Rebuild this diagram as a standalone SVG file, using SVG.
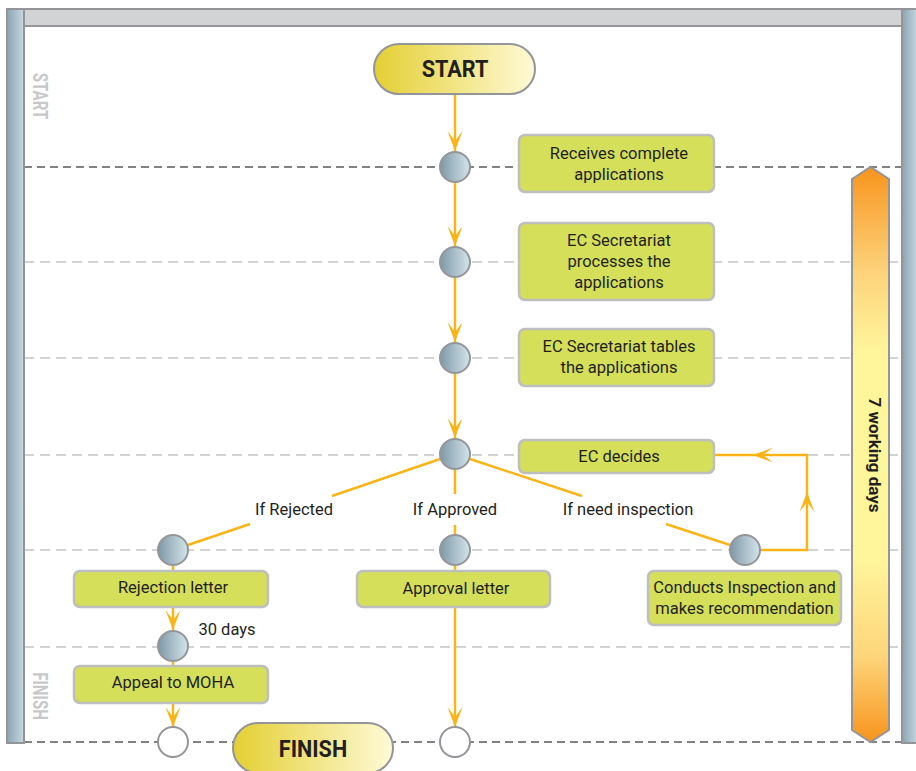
<svg xmlns="http://www.w3.org/2000/svg" width="916" height="771" viewBox="0 0 916 771">
<defs>
  <linearGradient id="cg" x1="0" y1="0" x2="1" y2="0">
    <stop offset="0" stop-color="#7f98a7"/>
    <stop offset="1" stop-color="#d4e5eb"/>
  </linearGradient>
  <linearGradient id="barg" x1="0" y1="0" x2="1" y2="0">
    <stop offset="0" stop-color="#8aa2b1"/>
    <stop offset="1" stop-color="#c8dae2"/>
  </linearGradient>
  <linearGradient id="pillg" x1="0" y1="0" x2="1" y2="0">
    <stop offset="0" stop-color="#e4cf33"/>
    <stop offset="1" stop-color="#fefad6"/>
  </linearGradient>
  <linearGradient id="og" x1="0" y1="0" x2="0" y2="1">
    <stop offset="0" stop-color="#f7941d"/>
    <stop offset="0.18" stop-color="#fdd27a"/>
    <stop offset="0.32" stop-color="#fff59b"/>
    <stop offset="0.68" stop-color="#fff59b"/>
    <stop offset="0.85" stop-color="#fed57a"/>
    <stop offset="1" stop-color="#f7941d"/>
  </linearGradient>
  <marker id="arr" viewBox="-21 -10 22 20" refX="0" refY="0" markerWidth="22" markerHeight="20" markerUnits="userSpaceOnUse" orient="auto">
    <path d="M0,0 L-20,-7.5 L-10,0 L-20,7.5 Z" fill="#fbb416"/>
  </marker>
</defs>
<style>
  .dk{stroke:#808285;stroke-width:2;stroke-dasharray:8 5;fill:none}
  .lt{stroke:#d1d3d4;stroke-width:2;stroke-dasharray:10 6;fill:none}
  .c{stroke:#fbb416;stroke-width:2.5;fill:none}
  .ca{stroke:#fbb416;stroke-width:2.5;fill:none;marker-end:url(#arr)}
  .dot{fill:url(#cg);stroke:#939598;stroke-width:2}
  .end{fill:#ffffff;stroke:#939598;stroke-width:2}
  .box{fill:#d5df5a;stroke:#bcbec0;stroke-width:2.5}
  .pill{fill:url(#pillg);stroke:#939598;stroke-width:2}
  .frame{stroke:#939598;stroke-width:2}
  .t{font-family:Roboto,"Liberation Sans",sans-serif;font-size:16.5px;fill:#231f20;text-anchor:middle}
  .b{font-family:Roboto,"Liberation Sans",sans-serif;font-weight:700;fill:#231f20;text-anchor:middle}
  .lane{font-family:Roboto,"Liberation Sans",sans-serif;font-weight:700;font-size:21px;fill:#c7c8ca;text-anchor:middle}
</style>
<rect x="0" y="0" width="916" height="771" fill="#ffffff"/>

<g id="lanes">
  <line class="dk" x1="24" y1="167" x2="902" y2="167"/>
  <line class="lt" x1="24" y1="262" x2="902" y2="262"/>
  <line class="lt" x1="24" y1="358" x2="902" y2="358"/>
  <line class="lt" x1="24" y1="455" x2="902" y2="455"/>
  <line class="lt" x1="24" y1="550" x2="902" y2="550"/>
  <line class="lt" x1="24" y1="647" x2="902" y2="647"/>
  <line class="dk" x1="24" y1="742" x2="902" y2="742"/>
</g>

<g id="frame">
  <rect class="frame" x="24" y="9" width="878" height="17" fill="#d1d3d4"/>
  <rect class="frame" x="7" y="9" width="17" height="734" fill="url(#barg)"/>
  <rect class="frame" x="902" y="9" width="16" height="734" fill="url(#barg)"/>
  <text class="lane" transform="translate(33,96) rotate(90) scale(0.72,1)">START</text>
  <text class="lane" transform="translate(33,696) rotate(90) scale(0.72,1)">FINISH</text>
</g>

<g id="duration">
  <polygon points="852,179 870.5,167 889,179 889,730 870.5,742 852,730" fill="url(#og)" stroke="#939598" stroke-width="2"/>
  <text class="b" font-size="17" transform="translate(868.5,455) rotate(90)">7 working days</text>
</g>

<g id="connectors">
  <line class="ca" x1="455" y1="94" x2="455" y2="151"/>
  <line class="ca" x1="455" y1="183" x2="455" y2="246"/>
  <line class="ca" x1="455" y1="278" x2="455" y2="342"/>
  <line class="ca" x1="455" y1="374" x2="455" y2="438"/>
  <line class="c" x1="440" y1="459" x2="332" y2="496"/>
  <line class="c" x1="250" y1="524" x2="188" y2="545"/>
  <line class="c" x1="455" y1="470" x2="455" y2="494"/>
  <line class="c" x1="455" y1="525" x2="455" y2="534"/>
  <line class="c" x1="470" y1="459" x2="582" y2="496"/>
  <line class="c" x1="666" y1="524" x2="730" y2="545"/>
  <path class="ca" d="M761,550 L807,550 L807,492"/>
  <path class="ca" d="M807,492 L807,455 L753,455"/>
  <line class="c" x1="753" y1="455" x2="714" y2="455"/>
  <line class="c" x1="173" y1="566" x2="173" y2="571"/>
  <line class="ca" x1="173" y1="607" x2="173" y2="630"/>
  <line class="c" x1="173" y1="662" x2="173" y2="666"/>
  <line class="ca" x1="173" y1="703" x2="173" y2="727"/>
  <line class="c" x1="455" y1="566" x2="455" y2="571"/>
  <line class="ca" x1="455" y1="607" x2="455" y2="727"/>
  <text class="t" x="294" y="515">If Rejected</text>
  <text class="t" x="455" y="515">If Approved</text>
  <text class="t" x="628" y="515">If need inspection</text>
  <text class="t" x="227" y="635">30 days</text>
</g>

<g id="start">
  <rect class="pill" x="374" y="44" width="161" height="50" rx="25"/>
  <text class="b" font-size="24" transform="translate(455,77) scale(0.9,1)">START</text>
</g>
<g id="finish">
  <rect class="pill" x="233" y="723" width="160" height="50" rx="25"/>
  <text class="b" font-size="24" transform="translate(313,757) scale(0.9,1)">FINISH</text>
</g>

<g id="p1"><circle class="dot" cx="455" cy="167" r="15"/></g>
<g id="p2"><circle class="dot" cx="455" cy="262" r="15"/></g>
<g id="p3"><circle class="dot" cx="455" cy="358" r="15"/></g>
<g id="p4"><circle class="dot" cx="455" cy="454" r="15"/></g>
<g id="p5"><circle class="dot" cx="173" cy="550" r="15"/></g>
<g id="p6"><circle class="dot" cx="455" cy="550" r="15"/></g>
<g id="p7"><circle class="dot" cx="745" cy="550" r="15"/></g>
<g id="p8"><circle class="dot" cx="173" cy="646" r="15"/></g>
<g id="e1"><circle class="end" cx="173" cy="742" r="15"/></g>
<g id="e2"><circle class="end" cx="455" cy="742" r="15"/></g>

<g id="receives">
  <rect class="box" x="519" y="135" width="195" height="57" rx="6"/>
  <text class="t" x="619" y="159">Receives complete</text>
  <text class="t" x="619" y="180">applications</text>
</g>
<g id="processes">
  <rect class="box" x="519" y="223" width="195" height="77" rx="6"/>
  <text class="t" x="619" y="246">EC Secretariat</text>
  <text class="t" x="619" y="267">processes the</text>
  <text class="t" x="619" y="288">applications</text>
</g>
<g id="tables">
  <rect class="box" x="519" y="329" width="195" height="57" rx="6"/>
  <text class="t" x="619" y="352">EC Secretariat tables</text>
  <text class="t" x="619" y="373">the applications</text>
</g>
<g id="decides">
  <rect class="box" x="519" y="440" width="195" height="33" rx="6"/>
  <text class="t" x="619" y="462">EC decides</text>
</g>
<g id="rejection">
  <rect class="box" x="74" y="571" width="194" height="36" rx="6"/>
  <text class="t" x="173" y="593">Rejection letter</text>
</g>
<g id="approval">
  <rect class="box" x="357" y="571" width="193" height="36" rx="6"/>
  <text class="t" x="456" y="594">Approval letter</text>
</g>
<g id="inspection">
  <rect class="box" x="648" y="571" width="193" height="54" rx="6"/>
  <text class="t" x="744.5" y="593">Conducts Inspection and</text>
  <text class="t" x="744.5" y="614">makes recommendation</text>
</g>
<g id="appeal">
  <rect class="box" x="74" y="666" width="194" height="37" rx="6"/>
  <text class="t" x="173" y="688">Appeal to MOHA</text>
</g>
</svg>
